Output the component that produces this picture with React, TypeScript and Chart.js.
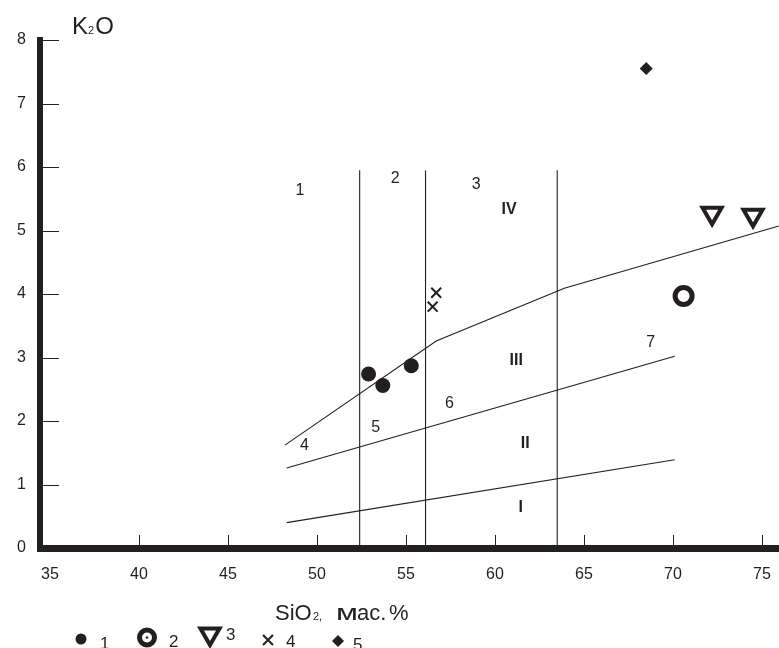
import React, { useEffect, useRef } from 'react';
import { Chart, registerables } from 'chart.js';
import { drawPoint } from 'chart.js/helpers';

Chart.register(...registerables);

const INK = '#231f20';
const FONT = "'Liberation Sans', Arial, sans-serif";

// ---- data: SiO2 (wt.%) and K2O (wt.%) ----
const series1X = [52.9, 53.7, 55.3];
const series1Y = [2.74, 2.56, 2.87];
const series2X = [70.6];
const series2Y = [3.97];
const series3X = [72.2, 74.5];
const series3Y = [5.27, 5.24];
const series4X = [56.7, 56.5];
const series4Y = [4.02, 3.8];
const series5X = [68.5];
const series5Y = [7.55];

const legendLabels = ['1', '2', '3', '4', '5'];

// ---- classification boundaries ----
const highKX = [48.2, 56.7, 63.9, 75.95];
const highKY = [1.62, 3.26, 4.09, 5.07];
const midKX = [48.3, 70.1];
const midKY = [1.26, 3.02];
const lowKX = [48.3, 70.1];
const lowKY = [0.4, 1.39];
const verticalX = [52.4, 56.1, 63.5];
const verticalTop = 5.95;

// ---- field labels ----
const zoneText = ['1', '2', '3', '4', '5', '6', '7', 'IV', 'III', 'II', 'I'];
const zoneX = [49.05, 54.4, 58.95, 49.3, 53.3, 57.45, 68.75, 60.8, 61.2, 61.7, 61.45];
const zoneY = [5.63, 5.82, 5.72, 1.62, 1.89, 2.27, 3.23, 5.33, 2.95, 1.64, 0.63];
const zoneBold = [false, false, false, false, false, false, false, true, true, true, true];

// ---- axes ----
const xTicks = [35, 40, 45, 50, 55, 60, 65, 70, 75];
const yTicks = [0, 1, 2, 3, 4, 5, 6, 7, 8];
const xMin = 34.44;
const xMax = 75.96;
const yMin = 0;
const yMax = 8;

const zip = (xs: number[], ys: number[]) => xs.map((x, i) => ({ x, y: ys[i] }));

const markerSets = [
  { label: legendLabels[0], data: zip(series1X, series1Y), pointStyle: 'circle', pointRadius: 7.5, pointBorderWidth: 0, pointBackgroundColor: INK, pointBorderColor: INK, pointRotation: 0, legendRadius: 5.5, legendBorder: 0 },
  { label: legendLabels[1], data: zip(series2X, series2Y), pointStyle: 'circle', pointRadius: 8.5, pointBorderWidth: 5, pointBackgroundColor: '#ffffff', pointBorderColor: INK, pointRotation: 0, legendRadius: 7.5, legendBorder: 5 },
  { label: legendLabels[2], data: zip(series3X, series3Y), pointStyle: 'triangle', pointRadius: 11, pointBorderWidth: 4, pointBackgroundColor: 'rgba(255,255,255,0)', pointBorderColor: INK, pointRotation: 180, legendRadius: 11, legendBorder: 4 },
  { label: legendLabels[3], data: zip(series4X, series4Y), pointStyle: 'crossRot', pointRadius: 7, pointBorderWidth: 2, pointBackgroundColor: INK, pointBorderColor: INK, pointRotation: 0, legendRadius: 7, legendBorder: 2 },
  { label: legendLabels[4], data: zip(series5X, series5Y), pointStyle: 'rectRot', pointRadius: 6.5, pointBorderWidth: 0, pointBackgroundColor: INK, pointBorderColor: INK, pointRotation: 0, legendRadius: 6, legendBorder: 0 },
];

const lineSet = (data: { x: number; y: number }[]) => ({
  label: '',
  data,
  showLine: true,
  borderColor: INK,
  borderWidth: 1.1,
  pointRadius: 0,
  pointHoverRadius: 0,
  fill: false,
  isBoundary: true,
});

const boundarySets = [
  lineSet(zip(highKX, highKY)),
  lineSet(zip(midKX, midKY)),
  lineSet(zip(lowKX, lowKY)),
  ...verticalX.map((v) => lineSet([{ x: v, y: 0 }, { x: v, y: verticalTop }])),
];

// legend layout (symbol centre, label offset) in canvas space
const legendSymbolX = [81, 147, 210, 268, 338];
const legendSymbolY = [639, 637.5, 634, 640, 641];
const legendTextX = [100, 169, 226, 286, 353];
const legendTextY = [649, 647, 640, 647, 650];

const decorPlugin = {
  id: 'decor',
  afterDraw(chart: any) {
    const { ctx, scales } = chart;
    const xs = scales.x;
    const ys = scales.y;
    ctx.save();

    // inner tick marks
    ctx.strokeStyle = INK;
    ctx.lineWidth = 1;
    xs.ticks.forEach((t: any) => {
      if (t.value === xTicks[0]) return;
      const px = Math.round(xs.getPixelForValue(t.value)) + 0.5;
      ctx.beginPath();
      ctx.moveTo(px, ys.bottom);
      ctx.lineTo(px, ys.bottom - 13);
      ctx.stroke();
    });
    ys.ticks.forEach((t: any) => {
      if (t.value === yTicks[0]) return;
      const py = Math.round(ys.getPixelForValue(t.value)) + 0.5;
      ctx.beginPath();
      ctx.moveTo(xs.left, py);
      ctx.lineTo(xs.left + 19, py);
      ctx.stroke();
    });

    // field labels
    ctx.fillStyle = INK;
    ctx.textAlign = 'center';
    ctx.textBaseline = 'middle';
    zoneText.forEach((txt, i) => {
      ctx.font = `${zoneBold[i] ? 'bold ' : ''}16px ${FONT}`;
      ctx.fillText(txt, xs.getPixelForValue(zoneX[i]), ys.getPixelForValue(zoneY[i]));
    });

    // axis titles
    ctx.textAlign = 'left';
    ctx.textBaseline = 'alphabetic';
    let cx = 72;
    const kBase = 34;
    ctx.font = `24px ${FONT}`;
    ctx.fillText('K', cx, kBase);
    cx += ctx.measureText('K').width;
    ctx.font = `11px ${FONT}`;
    ctx.fillText('2', cx, kBase);
    cx += ctx.measureText('2').width + 1;
    ctx.font = `24px ${FONT}`;
    ctx.fillText('O', cx, kBase);

    const sBase = 620;
    ctx.font = `22px ${FONT}`;
    ctx.fillText('SiO', 275, sBase);
    ctx.font = `11px ${FONT}`;
    ctx.fillText('2,', 313, sBase);
    ctx.font = `22px ${FONT}`;
    // wide Cyrillic "м" as in the original typeface
    ctx.save();
    ctx.translate(336, sBase);
    ctx.scale(1.45, 1);
    ctx.fillText('м', 0, 0);
    ctx.restore();
    ctx.fillText('ас.', 357, sBase);
    ctx.fillText('%', 389, sBase);

    // legend
    chart.data.datasets.forEach((ds: any, i: number) => {
      if (ds.isBoundary || i >= legendSymbolX.length) return;
      ctx.fillStyle = ds.pointBackgroundColor === '#ffffff' || ds.pointStyle === 'triangle' ? '#ffffff' : INK;
      ctx.strokeStyle = INK;
      ctx.lineWidth = ds.legendBorder;
      drawPoint(ctx, { pointStyle: ds.pointStyle, rotation: ds.pointRotation, radius: ds.legendRadius, borderWidth: ds.legendBorder } as any, legendSymbolX[i], legendSymbolY[i]);
      if (ds.pointBackgroundColor === '#ffffff') {
        ctx.fillStyle = INK;
        ctx.beginPath();
        ctx.arc(legendSymbolX[i], legendSymbolY[i], 1.3, 0, Math.PI * 2);
        ctx.fill();
      }
      ctx.fillStyle = INK;
      ctx.font = `17px ${FONT}`;
      ctx.fillText(ds.label, legendTextX[i], legendTextY[i]);
    });

    ctx.restore();
  },
};

export default function App() {
  const ref = useRef<HTMLCanvasElement>(null);

  useEffect(() => {
    if (!ref.current) return;
    const chart = new Chart(ref.current, {
      type: 'scatter',
      data: { datasets: [...markerSets, ...boundarySets] as any },
      options: {
        animation: false,
        responsive: true,
        maintainAspectRatio: false,
        devicePixelRatio: 1,
        layout: { autoPadding: false, padding: { top: 40, left: 0, right: 0, bottom: 0 } },
        plugins: { legend: { display: false }, tooltip: { enabled: false } },
        elements: { line: { tension: 0 } },
        scales: {
          x: {
            type: 'linear',
            min: xMin,
            max: xMax,
            afterBuildTicks: (s: any) => { s.ticks = xTicks.map((v) => ({ value: v })); },
            afterFit: (s: any) => { s.height = 100; s.paddingLeft = 0; s.paddingRight = 0; },
            grid: { display: false, drawTicks: false },
            border: { display: true, color: INK, width: 7 },
            ticks: { color: INK, font: { family: FONT, size: 16 }, padding: 17, maxRotation: 0, autoSkip: false },
          },
          y: {
            type: 'linear',
            min: yMin,
            max: yMax,
            afterBuildTicks: (s: any) => { s.ticks = yTicks.map((v) => ({ value: v })); },
            afterFit: (s: any) => { s.width = 40; s.paddingTop = 0; s.paddingBottom = 0; },
            grid: { display: false, drawTicks: false },
            border: { display: true, color: INK, width: 6 },
            ticks: { color: INK, font: { family: FONT, size: 16 }, padding: 14 },
          },
        },
      },
      plugins: [decorPlugin],
    });
    return () => chart.destroy();
  }, []);

  return (
    <div style={{ position: 'absolute', left: 0, top: 0, width: 779, height: 648 }}>
      <canvas ref={ref} />
    </div>
  );
}
